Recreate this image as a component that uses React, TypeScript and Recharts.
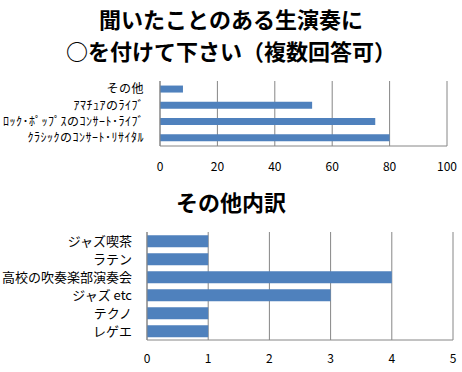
import { Bar, BarChart, XAxis, YAxis, CartesianGrid } from 'recharts'

const FONT = '"Noto Sans CJK JP", "Noto Sans", sans-serif'

const titleTop = ['聞いたことのある生演奏に', '○を付けて下さい（複数回答可）']
const titleBottom = 'その他内訳'

const venueNames = ['その他', 'ｱﾏﾁｭｱのﾗｲﾌﾞ', 'ﾛｯｸ･ﾎﾟｯﾌﾟｽのｺﾝｻｰﾄ･ﾗｲﾌﾞ', 'ｸﾗｼｯｸのｺﾝｻｰﾄ･ﾘｻｲﾀﾙ']
const venueCounts = [8, 53, 75, 80]
const venueTicks = [0, 20, 40, 60, 80, 100]

const otherNames = ['ジャズ喫茶', 'ラテン', '高校の吹奏楽部演奏会', 'ジャズ etc', 'テクノ', 'レゲエ']
const otherCounts = [1, 1, 4, 3, 1, 1]
const otherTicks = [0, 1, 2, 3, 4, 5]

const BAR = '#4f81bd'
const GRID = '#868686'

const venueData = venueNames.map((name, i) => ({ name, value: venueCounts[i] }))
const otherData = otherNames.map((name, i) => ({ name, value: otherCounts[i] }))

function Title({ lines, top }: { lines: string[]; top: number }) {
  return (
    <div
      style={{
        position: 'absolute',
        left: 0,
        top,
        width: 462,
        textAlign: 'center',
        fontFamily: FONT,
        fontWeight: 700,
        fontSize: 22,
        lineHeight: '32px',
        color: '#000',
      }}
    >
      {lines.map((l) => (
        <div key={l}>{l}</div>
      ))}
    </div>
  )
}

export default function App() {
  return (
    <div style={{ position: 'absolute', left: 0, top: 0, width: 462, height: 372, background: '#fff', overflow: 'hidden' }}>
      <Title lines={titleTop} top={2} />
      <div style={{ position: 'absolute', left: 0, top: 70 }}>
        <BarChart
          width={462}
          height={110}
          data={venueData}
          layout="vertical"
          barCategoryGap="28%"
          margin={{ top: 11, right: 15, left: 0, bottom: 0 }}
        >
          <CartesianGrid horizontal={false} stroke={GRID} />
          <XAxis
            type="number"
            domain={[0, 100]}
            ticks={venueTicks}
            height={34}
            tickLine={false}
            tickMargin={10}
            axisLine={{ stroke: GRID }}
            tick={{ fill: '#000', fontSize: 12, fontFamily: FONT }}
          />
          <YAxis
            type="category"
            dataKey="name"
            width={160}
            interval={0}
            tickLine={false}
            tickMargin={10}
            axisLine={{ stroke: GRID }}
            tick={{ fill: '#000', fontSize: 12, fontFamily: FONT, letterSpacing: 0.5 }}
          />
          <Bar dataKey="value" fill={BAR} isAnimationActive={false} />
        </BarChart>
      </div>
      <Title lines={[titleBottom]} top={185} />
      <div style={{ position: 'absolute', left: 0, top: 222 }}>
        <BarChart
          width={462}
          height={150}
          data={otherData}
          layout="vertical"
          barCategoryGap="18%"
          margin={{ top: 10, right: 9, left: 0, bottom: 0 }}
        >
          <CartesianGrid horizontal={false} stroke={GRID} />
          <XAxis
            type="number"
            domain={[0, 5]}
            ticks={otherTicks}
            height={32}
            tickLine={false}
            tickMargin={8}
            axisLine={{ stroke: GRID }}
            tick={{ fill: '#000', fontSize: 12, fontFamily: FONT }}
          />
          <YAxis
            type="category"
            dataKey="name"
            width={147}
            interval={0}
            tickLine={false}
            tickMargin={9}
            axisLine={{ stroke: GRID }}
            tick={{ fill: '#000', fontSize: 13, fontFamily: FONT }}
          />
          <Bar dataKey="value" fill={BAR} isAnimationActive={false} />
        </BarChart>
      </div>
    </div>
  )
}
